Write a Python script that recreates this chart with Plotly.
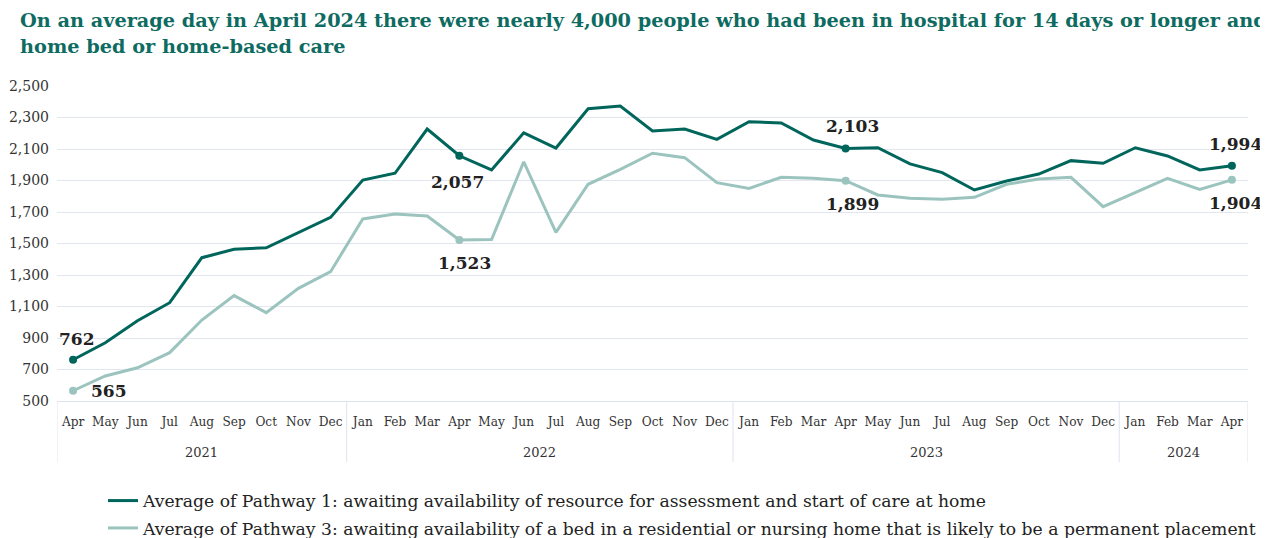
import plotly.graph_objects as go

years = ["2021"] * 9 + ["2022"] * 12 + ["2023"] * 12 + ["2024"] * 4
months = ["Apr", "May", "Jun", "Jul", "Aug", "Sep", "Oct", "Nov", "Dec"] + \
    ["Jan", "Feb", "Mar", "Apr", "May", "Jun", "Jul", "Aug", "Sep", "Oct", "Nov", "Dec"] * 2 + \
    ["Jan", "Feb", "Mar", "Apr"]

pathway1 = [762, 870, 1010, 1124, 1410, 1463, 1473, 1569, 1666,
            1903, 1946, 2227, 2057, 1967, 2203, 2106, 2356, 2373, 2214, 2227, 2161,
            2273, 2265, 2157, 2103, 2108, 2005, 1950, 1840, 1897, 1941, 2026, 2009,
            2108, 2056, 1967, 1994]
pathway3 = [565, 659, 711, 807, 1014, 1169, 1061, 1215, 1321,
            1656, 1687, 1675, 1523, 1525, 2019, 1571, 1876, 1971, 2073, 2045, 1886,
            1850, 1920, 1914, 1899, 1808, 1787, 1781, 1793, 1876, 1909, 1920, 1734,
            1825, 1914, 1844, 1904]

name1 = "Average of Pathway 1: awaiting availability of resource for assessment and start of care at home"
name3 = "Average of Pathway 3: awaiting availability of a bed in a residential or nursing home that is likely to be a permanent placement"

title_line1 = "On an average day in April 2024 there were nearly 4,000 people who had been in hospital for 14 days or longer and awaiting a care"
title_line2 = "home bed or home-based care"

label_idx = [0, 12, 24, 36]

DARK = "#00665B"
LIGHT = "#9CC4BF"
SERIF = "DejaVu Serif"
GRID = "#E1E6EF"

W, H = 1268, 538
ML, MR, MT, MB = 49, 28, 78, 145
PW, PH = W - ML - MR, H - MT - MB

idx = list(range(len(months)))

fig = go.Figure()
fig.add_trace(go.Scatter(x=idx, y=pathway1, mode="lines", name=name1, legendgroup="p1",
                         line=dict(color=DARK, width=3)))
fig.add_trace(go.Scatter(x=idx, y=pathway3, mode="lines", name=name3, legendgroup="p3",
                         line=dict(color=LIGHT, width=3)))

for vals, color in [(pathway1, DARK), (pathway3, LIGHT)]:
    fig.add_trace(go.Scatter(
        x=label_idx, y=[vals[i] for i in label_idx], mode="markers",
        marker=dict(color=color, size=8), showlegend=False, cliponaxis=False))

# label placements: (xanchor, yanchor, xshift, yshift)
place1 = [("center", "bottom", 4, 9), ("center", "top", -2, -14),
          ("center", "bottom", 7, 11), ("left", "bottom", -25, 10)]
place3 = [("left", "middle", 16, 0), ("center", "top", 5, -11),
          ("center", "top", 7, -11), ("left", "top", -25, -11)]

annotations = []
for vals, places in [(pathway1, place1), (pathway3, place3)]:
    for i, (xa, ya, xs, ys) in zip(label_idx, places):
        annotations.append(dict(
            x=i, y=vals[i], xref="x", yref="y", text=f"<b>{vals[i]:,}</b>",
            showarrow=False, xanchor=xa, yanchor=ya, xshift=xs, yshift=ys,
            font=dict(family=SERIF, size=17, color="#222222")))

# year group labels
groups = []
for i, y in enumerate(years):
    if not groups or groups[-1][0] != y:
        groups.append([y, i, i])
    else:
        groups[-1][2] = i
for y, a, b in groups:
    annotations.append(dict(x=(a + b) / 2, y=-0.162, xref="x", yref="paper", text=y,
                            showarrow=False, yanchor="middle",
                            font=dict(family=SERIF, size=13, color="#333333")))

# title lines (positions in figure pixels converted to paper coords)
for txt, yc in [(title_line1, 12), (title_line2, 38)]:
    annotations.append(dict(x=(10 - ML) / PW, y=(MT + PH - yc) / PH,
                            xref="paper", yref="paper", text=f"<b>{txt}</b>", showarrow=False,
                            xanchor="left", yanchor="middle",
                            font=dict(family=SERIF, size=19.3, color="#0E6B61")))

shapes = []
bounds = [groups[0][1] - 0.5] + [g[2] + 0.5 for g in groups]
for b in bounds:
    shapes.append(dict(type="line", xref="x", yref="paper", x0=b, x1=b, y0=0, y1=-0.194,
                       line=dict(color="#DDE3EE", width=1)))

fig.update_layout(
    width=W, height=H,
    margin=dict(l=ML, r=MR, t=MT, b=MB, autoexpand=False),
    plot_bgcolor="white", paper_bgcolor="white",
    legend=dict(orientation="v", x=(95 - ML) / PW, xanchor="left", y=-0.26, yanchor="top",
                font=dict(family=SERIF, size=17.2, color="#222222"),
                itemwidth=30, tracegroupgap=2),
    xaxis=dict(range=[-0.5, len(months) - 0.5], tickvals=idx, ticktext=months, tickangle=0,
               showgrid=False, showline=True, linecolor="#DDE3EE", zeroline=False, ticks="",
               ticklabelstandoff=8,
               tickfont=dict(family="DejaVu Serif Condensed, DejaVu Serif", size=13.5, color="#333333")),
    yaxis=dict(range=[500, 2500], tickvals=list(range(500, 2600, 200)), tickformat=",",
               gridcolor=GRID, zeroline=False, ticks="", ticklabelstandoff=7,
               tickfont=dict(family=SERIF, size=14, color="#333333")),
    annotations=annotations,
    shapes=shapes,
)

fig.write_html("out.html")
